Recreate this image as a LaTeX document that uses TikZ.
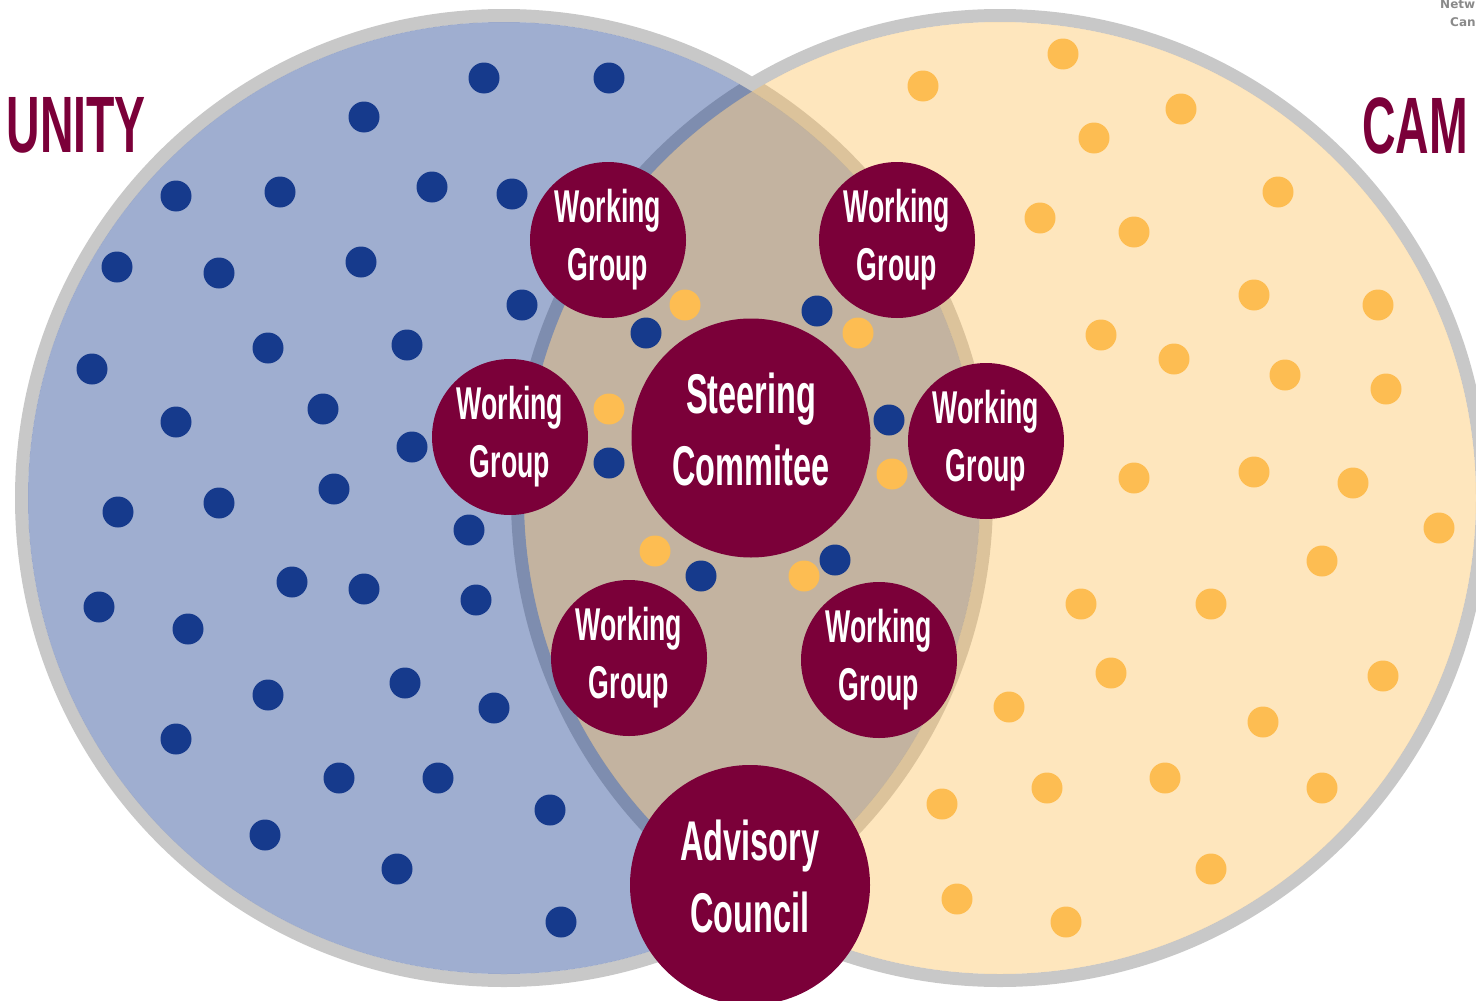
\documentclass[tikz,border=0pt]{standalone}
\usepackage{fontspec}
\newfontfamily\narrowfont{Liberation Sans}[FakeStretch=0.58]
\newfontfamily\logofont{DejaVu Sans}
\definecolor{maroon}{RGB}{123,0,57}
\definecolor{commblue}{RGB}{22,58,140}
\definecolor{campgold}{RGB}{253,189,82}
\definecolor{ringgray}{RGB}{200,200,200}
\definecolor{logogray}{RGB}{138,138,138}

\begin{document}
\begin{tikzpicture}[x=1pt,y=-1pt,every node/.style={circle,fill=maroon,text=white,inner sep=0pt,align=center},
  wg/.style={minimum size=156pt,font=\narrowfont\bfseries\fontsize{46}{58}\selectfont},
  body/.style={minimum size=239pt,font=\narrowfont\bfseries\fontsize{56}{72}\selectfont,execute at end node={\rule[-17pt]{0pt}{0pt}}},
  side/.style={shape=rectangle,fill=none,text=maroon,font=\narrowfont\bfseries\fontsize{80}{80}\selectfont},
  logo/.style={shape=rectangle,fill=none,text=logogray,font=\logofont\bfseries\fontsize{12}{12}\selectfont,anchor=base west}]
\useasboundingbox (0,0) rectangle (1476,1001);
\clip (0,0) rectangle (1476,1001);
\coordinate (lc) at (504,498);
\coordinate (rc) at (1000,498);
% the two circles
\draw [line width=13pt,draw=ringgray] (lc) circle (482.5pt) (rc) circle (482.5pt);
\fill [commblue,opacity=0.41] (lc) circle (476pt);
\fill [campgold,opacity=0.38] (rc) circle (476pt);
% members
\foreach \x/\y in {484/78,609/78,364/117,176/196,280/192,432/187,512/194,117/267,219/273,361/262,522/305,646/333,817/311,268/348,407/345,92/369,323/409,176/422,412/447,609/463,889/420,118/512,219/503,334/489,469/530,292/582,364/589,99/607,188/629,476/600,701/576,835/560,268/695,405/683,494/708,176/739,339/778,438/778,550/810,265/835,397/869,561/922}
  \fill [commblue] (\x,\y) circle (15.5pt);
\foreach \x/\y in {923/86,1063/54,1181/109,1094/138,1278/192,1040/218,1134/232,1254/295,1378/305,685/305,858/333,1101/335,1174/359,1285/375,1386/389,609/409,892/474,1134/478,1254/472,1353/483,1439/528,655/551,804/576,1322/561,1081/604,1211/604,1111/673,1383/676,1009/707,1263/722,1047/788,1165/778,1322/788,942/804,1211/869,957/899,1066/922}
  \fill [campgold] (\x,\y) circle (15.5pt);
% bodies
\node [body] (steering) at (751,438) {Steering\\Commitee};
\node [body,minimum size=240pt] (advisory) at (750,885) {Advisory\\Council};
\node [wg] (wg1) at (608,240) {Working\\Group};
\node [wg] (wg2) at (897,240) {Working\\Group};
\node [wg] (wg3) at (510,437) {Working\\Group};
\node [wg] (wg4) at (986,441) {Working\\Group};
\node [wg] (wg5) at (629,658) {Working\\Group};
\node [wg] (wg6) at (879,660) {Working\\Group};
% side labels
\node [side,anchor=base east] (community) at (146,152) {UNITY};
\node [side,anchor=base west] (campus) at (1362,153) {CAM};
\node [logo] (network) at (1440,9) {Netw};
\node [logo] (can) at (1450,27) {Can};
\end{tikzpicture}
\end{document}
